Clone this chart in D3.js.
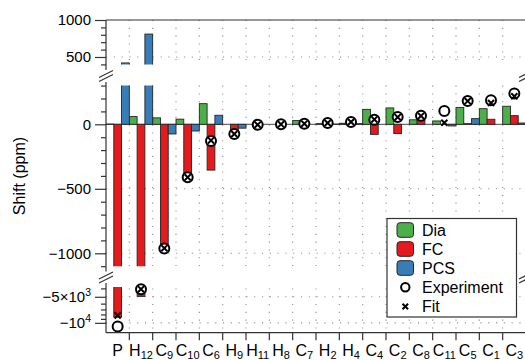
<!DOCTYPE html>
<html>
<head>
<meta charset="utf-8">
<script src="https://cdn.jsdelivr.net/npm/d3@7"></script>
<style>
  html, body { margin: 0; padding: 0; background: #fff; }
  svg { display: block; font-family: "Liberation Sans", Arial, Helvetica, sans-serif; }
</style>
</head>
<body>
<svg id="chart" width="525" height="360"></svg>
<script>
// Nuclear shifts per atom: diamagnetic, Fermi-contact and pseudocontact parts
const categories = ["P", "H12", "C9", "C10", "C6", "H9", "H11", "H8", "C7", "H2", "H4", "C4", "C2", "C8", "C11", "C5", "C1", "C3"];
const dia = [2, 60, 50, 40, 160, 0, 0, 0, 30, 5, 8, 116, 127, 35, 26, 131, 121, 140];
const fc = [-8600, -4950, -935, -400, -355, -45, -3, 0, -25, 3, 5, -78, -72, 30, 0, 5, 39, 67];
const pcs = [420, 810, -75, -52, 70, -30, 0, 0, 0, 2, 5, 0, 0, 0, -13, 44, 0, 10];
const experiment = [-11000, -4100, -963, -411, -129, -75, -4, 0, 5, 10, 18, 36, 57, 67, 103, 181, 186, 238];
const fit = [-8200, -4080, -960, -411, -125, -75, -3, 0, 5, 10, 18, 38, 55, 65, 12, 180, 165, 217];

const seriesNames = ["Dia", "FC", "PCS"];
const seriesColors = ["#4DAF4A", "#E41A1C", "#377EB8"];

// y-axis ticks for the three stacked axis pieces
const topMajor = [500, 1000];
const topMinor = [400, 600, 700, 800, 900];
const midMajor = [0, -500, -1000];
const midMinor = [300, 200, 100, -100, -200, -300, -400, -600, -700, -800, -900, -1100];
const lowMajor = [-5000, -10000];
const lowMinor = [-4000, -6000, -7000, -8000, -9000];
const lowLabels = [["\u22125\u00d710", "3"], ["\u221210", "4"]];

const svg = d3.select("#chart");
const X0 = 106, X1 = 526, YTOP = 20, YBOT = 332.7;

const x = d3.scaleBand().domain(categories).range([X0, X1]).paddingInner(0).paddingOuter(0);
const xs = d3.scaleBand().domain(seriesNames).range([0, x.bandwidth()]).padding(0);
const color = d3.scaleOrdinal().domain(seriesNames).range(seriesColors);

const segments = [
  { scale: d3.scaleLinear().domain([400, 1000]).range([64.4, YTOP]), clip: [YTOP, 64.4], grid: [YTOP, 64.4] },
  { scale: d3.scaleLinear().domain([-1100, 300]).range([266.2, 85.6]), clip: [85.6, 266.2], grid: [85.6, 266.2] },
  { scale: d3.scaleLog().domain([-4000, -13000]).range([288.4, YBOT]), clip: [287, YBOT], grid: [288.4, YBOT] }
];

function inSeg(seg, v) {
  const [lo, hi] = d3.extent(seg.scale.domain());
  return v >= lo && v <= hi;
}
function segPos(seg, v) {
  const [lo, hi] = d3.extent(seg.scale.domain());
  if (v > hi) return seg.clip[0] - 3;
  if (v < lo) return seg.clip[1] + 3;
  return seg.scale(v);
}

const defs = svg.append("defs");
segments.forEach((seg, i) => {
  defs.append("clipPath").attr("id", "seg" + i)
    .append("rect").attr("x", X0).attr("width", X1 - X0)
    .attr("y", seg.clip[0]).attr("height", seg.clip[1] - seg.clip[0]);
});

// dotted grid
const grid = svg.append("g")
  .attr("stroke", "#8c8c8c").attr("stroke-width", 1.1).attr("stroke-dasharray", "1.1 6.7");
const bounds = categories.slice(1).map(c => x(c));
segments.forEach(seg => {
  grid.selectAll(null).data(bounds).join("line")
    .attr("x1", d => d).attr("x2", d => d)
    .attr("y1", seg.grid[0]).attr("y2", seg.grid[1]);
});
const hGrid = [[segments[0], 500], [segments[1], -500], [segments[1], -1000], [segments[2], -5000], [segments[2], -10000]];
grid.selectAll(null).data(hGrid).join("line")
  .attr("x1", X0).attr("x2", X1)
  .attr("y1", d => d[0].scale(d[1])).attr("y2", d => d[0].scale(d[1]));

// zero line
const y0 = segments[1].scale(0);
svg.append("line").attr("x1", X0).attr("x2", X1).attr("y1", y0).attr("y2", y0)
  .attr("stroke", "#333").attr("stroke-width", 0.9);

// bars, drawn once per axis piece and clipped to it
const seriesValues = [dia, fc, pcs];
segments.forEach((seg, si) => {
  const g = svg.append("g").attr("clip-path", `url(#seg${si})`);
  seriesNames.forEach((name, k) => {
    const rows = categories.map((c, i) => ({ c, v: seriesValues[k][i] }))
      .filter(d => {
        const a = Math.min(0, d.v), b = Math.max(0, d.v);
        const [lo, hi] = d3.extent(seg.scale.domain());
        return d.v !== 0 && b >= lo && a <= hi;
      });
    g.selectAll(null).data(rows).join("rect")
      .attr("x", d => x(d.c) + xs(name))
      .attr("width", xs.bandwidth())
      .attr("y", d => segPos(seg, Math.max(0, d.v)))
      .attr("height", d => Math.max(0.01, segPos(seg, Math.min(0, d.v)) - segPos(seg, Math.max(0, d.v))))
      .attr("fill", color(name))
      .attr("stroke", "#262626").attr("stroke-width", 0.9);
  });
});

// experiment (open circles) and fit (crosses)
function yOf(v) {
  const seg = segments.find(s => inSeg(s, v));
  return seg.scale(v);
}
const cx = c => x(c) + x.bandwidth() / 2;
svg.append("g").selectAll("circle")
  .data(categories.map((c, i) => ({ c, v: experiment[i] })))
  .join("circle")
  .attr("cx", d => cx(d.c)).attr("cy", d => yOf(d.v)).attr("r", 5)
  .attr("fill", "#fff").attr("stroke", "#000").attr("stroke-width", 2);

const cross = d3.symbol().type(d3.symbolX).size(26);
svg.append("g").selectAll("path")
  .data(categories.map((c, i) => ({ c, v: fit[i] })))
  .join("path")
  .attr("transform", d => `translate(${cx(d.c)},${yOf(d.v)})`)
  .attr("d", cross).attr("fill", "none").attr("stroke", "#000").attr("stroke-width", 2);

// frame
const axisColor = "#333";
const frame = svg.append("g").attr("stroke", axisColor).attr("stroke-width", 1.2).attr("fill", "none");
frame.append("line").attr("x1", X0).attr("x2", X1).attr("y1", YTOP).attr("y2", YTOP);
frame.append("line").attr("x1", X0).attr("x2", X1).attr("y1", YBOT).attr("y2", YBOT);
[[YTOP, 70], [82, 271.5], [283, YBOT]].forEach(([a, b]) => {
  [X0, X1].forEach(xx => frame.append("line").attr("x1", xx).attr("x2", xx).attr("y1", a).attr("y2", b));
});
[76, 277.5].forEach(yb => {
  [X0, X1].forEach(xx => {
    [-2, 2].forEach(o => {
      frame.append("line")
        .attr("x1", xx - 7).attr("y1", yb + o + 3.5)
        .attr("x2", xx + 7).attr("y2", yb + o - 3.5);
    });
  });
});

// left axis pieces
function yAxis(scale, major, minor, labels) {
  const gMinor = svg.append("g").attr("transform", `translate(${X0},0)`)
    .call(d3.axisLeft(scale).tickValues(minor).tickSize(5).tickFormat(""));
  const gMajor = svg.append("g").attr("transform", `translate(${X0},0)`)
    .call(d3.axisLeft(scale).tickValues(major).tickSize(11).tickPadding(4)
      .tickFormat(labels ? () => "" : d => d < 0 ? "\u2212" + Math.abs(d) : String(d)));
  [gMinor, gMajor].forEach(g => {
    g.select(".domain").remove();
    g.selectAll("line").attr("stroke", axisColor).attr("stroke-width", 1.2);
    g.selectAll("text").attr("font-size", 15).attr("fill", "#000")
      .attr("font-family", "'Liberation Sans', Arial, sans-serif");
  });
  if (labels) {
    gMajor.selectAll(".tick text").each(function (d, i) {
      const t = d3.select(this);
      t.append("tspan").text(labels[i][0]);
      t.append("tspan").attr("font-size", 10.5).attr("dy", "-0.55em").text(labels[i][1]);
    });
  }
}
yAxis(segments[0].scale, topMajor, topMinor);
yAxis(segments[1].scale, midMajor, midMinor);
yAxis(segments[2].scale, lowMajor, lowMinor, lowLabels);

// bottom axis: labels centred on atoms, ticks between them
const xAxis = svg.append("g").attr("transform", `translate(0,${YBOT})`)
  .call(d3.axisBottom(x).tickSize(0).tickPadding(0).tickFormat(""));
xAxis.select(".domain").remove();
xAxis.selectAll(".tick text").each(function (d) {
  const m = d.match(/^([A-Za-z]+)(\d*)$/);
  const t = d3.select(this).attr("y", 23.5).attr("dy", null)
    .attr("font-size", 16).attr("fill", "#000")
    .attr("font-family", "'Liberation Sans', Arial, sans-serif");
  t.append("tspan").text(m[1]);
  if (m[2]) t.append("tspan").attr("font-size", 11).attr("dy", "0.3em").text(m[2]);
});
svg.append("g").selectAll("line").data(bounds.concat([X1])).join("line")
  .attr("x1", d => d).attr("x2", d => d).attr("y1", YBOT).attr("y2", YBOT + 7.5)
  .attr("stroke", axisColor).attr("stroke-width", 1.2);

// y title
svg.append("text").attr("transform", "translate(25,176) rotate(-90)")
  .attr("text-anchor", "middle").attr("font-size", 16).attr("fill", "#000")
  .text("Shift (ppm)");

// legend
const lg = svg.append("g");
lg.append("rect").attr("x", 387).attr("y", 218.5).attr("width", 129.5).attr("height", 98.5)
  .attr("fill", "#fff").attr("stroke", axisColor).attr("stroke-width", 1.2);
const rowY = [230, 249, 268, 287.3, 306.5];
seriesNames.forEach((name, i) => {
  lg.append("rect").attr("x", 397).attr("y", rowY[i] - 7.3).attr("width", 16.5).attr("height", 14.6)
    .attr("rx", 3).attr("fill", color(name)).attr("stroke", "#262626").attr("stroke-width", 1);
});
lg.append("circle").attr("cx", 405.3).attr("cy", rowY[3]).attr("r", 4.2)
  .attr("fill", "#fff").attr("stroke", "#000").attr("stroke-width", 2);
lg.append("path").attr("transform", `translate(405.3,${rowY[4]})`).attr("d", d3.symbol().type(d3.symbolX).size(22))
  .attr("fill", "none").attr("stroke", "#000").attr("stroke-width", 2);
seriesNames.concat(["Experiment", "Fit"]).forEach((name, i) => {
  lg.append("text").attr("x", 422).attr("y", rowY[i] + 5.7).attr("font-size", 16).attr("fill", "#000").text(name);
});
</script>
</body>
</html>
